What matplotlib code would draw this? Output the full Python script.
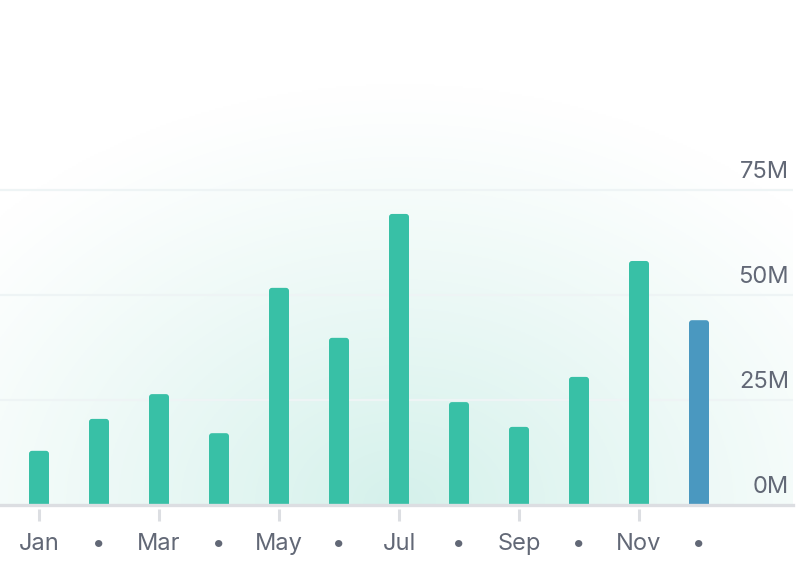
import numpy as np
import matplotlib
matplotlib.use("Agg")
import matplotlib.pyplot as plt
import matplotlib.transforms as mtransforms
from matplotlib.patches import FancyBboxPatch

# ─── Data ─────────────────────────────────────────────────────────────────────
months = ["Jan", "Feb", "Mar", "Apr", "May", "Jun",
          "Jul", "Aug", "Sep", "Oct", "Nov", "Dec"]
values_m = [12.9, 20.5, 26.4, 17.1, 51.7, 39.8, 69.3, 24.5, 18.6, 30.5, 58.1, 44.0]
highlight = "Dec"
y_ticks = [0, 25, 50, 75]
y_tick_labels = ["0M", "25M", "50M", "75M"]

# ─── Style ────────────────────────────────────────────────────────────────────
BAR = "#38c0a6"
BAR_HI = "#4a98c0"
TEXT = "#626876"
GRID = "#eef4f5"
AXIS = "#dcdee2"
BG_TINT = np.array([0.835, 0.945, 0.922])
FONT = ["Inter", "DejaVu Sans"]

W, H = 798, 564
fig = plt.figure(figsize=(W / 100, H / 100), dpi=100)
fig.patch.set_facecolor("white")

# plot area: left edge 0 px, right 793 px, top 0 px, baseline 505 px
ax = fig.add_axes([0, (H - 505) / H, 793 / W, 505 / H])
ax.set_facecolor("none")
x = np.arange(len(months))
xlim = (-39 / 60, (793 - 39) / 60)
ylim = (0, 505 / 4.2)
ax.set_xlim(*xlim)
ax.set_ylim(*ylim)

# soft radial tint behind the bars (row 0 = top of plot area)
gx, gy = np.meshgrid(np.linspace(0, 793, 400), np.linspace(0, 505, 260))
r = np.sqrt(((gx - 400) / 550) ** 2 + ((gy - 505) / 420) ** 2)
t = np.clip(1 - r, 0, 1) ** 1.1
img = 1 - t[..., None] * (1 - BG_TINT)
ax.imshow(img, extent=(*xlim, *ylim), aspect="auto", zorder=0, origin="upper")

# grid lines
for v in y_ticks[1:]:
    ax.axhline(v, color=GRID, linewidth=1.6, zorder=1)

# bars with slightly rounded tops
bar_w = 20 / 60
bars = ax.bar(x, values_m, width=bar_w, color="none", zorder=2)
for bar, m in zip(bars, months):
    col = BAR_HI if m == highlight else BAR
    p = FancyBboxPatch((bar.get_x(), -2), bar.get_width(), bar.get_height() + 2,
                       boxstyle="round,pad=0,rounding_size=0.05",
                       mutation_aspect=60 / 4.2, facecolor=col,
                       edgecolor="none", zorder=3)
    ax.add_patch(p)

# y labels on the right, above their grid lines
ytrans = ax.get_yaxis_transform() + mtransforms.ScaledTranslation(0, 12 / 100, fig.dpi_scale_trans)
for v, lab in zip(y_ticks, y_tick_labels):
    ax.text(789 / 793, v, lab, transform=ytrans, ha="right", va="baseline",
            fontsize=17, color=TEXT, family=FONT)

# baseline
ax.axhline(0, color=AXIS, linewidth=2.4, zorder=4, clip_on=False)
for s in ax.spines.values():
    s.set_visible(False)

# x ticks: month names on odd positions, bullets between
ax.set_yticks([])
ax.set_xticks(x)
ax.set_xticklabels([m if i % 2 == 0 else "•" for i, m in enumerate(months)],
                   fontsize=17, color=TEXT, family=FONT)
ax.tick_params(axis="x", length=0, pad=20.5)
xtrans = ax.get_xaxis_transform()
ax.vlines(x[::2], -4 / 505, -16 / 505, transform=xtrans, color=AXIS,
          linewidth=2.2, clip_on=False)

fig.savefig("out.png", dpi=100, facecolor="white")
